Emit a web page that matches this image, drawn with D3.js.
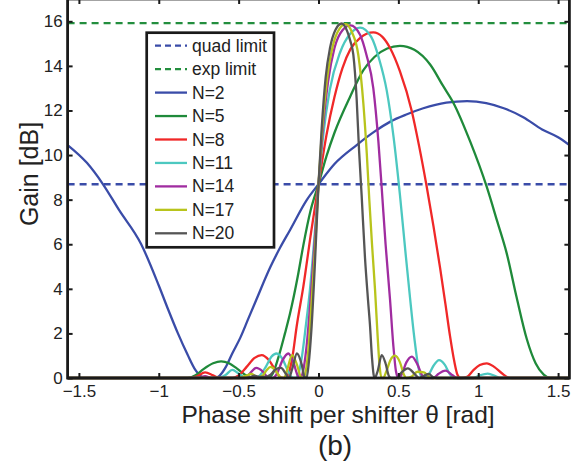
<!DOCTYPE html>
<html><head><meta charset="utf-8">
<script src="https://cdn.jsdelivr.net/npm/d3@7"></script>
<style>
html,body{margin:0;padding:0;background:#fff;}
svg{display:block;}
text{font-family:"Liberation Sans",Arial,Helvetica,sans-serif;fill:#222;}
</style></head>
<body>
<svg id="chart" width="587" height="469"></svg>
<script>
// ---- data ----
const xTicks = [-1.5, -1, -0.5, 0, 0.5, 1, 1.5];
const yTicks = [0, 2, 4, 6, 8, 10, 12, 14, 16];
const quadLimit = 8.69;
const expLimit = 15.92;
const legendLabels = ["quad limit", "exp limit", "N=2", "N=5", "N=8", "N=11", "N=14", "N=17", "N=20"];

const n2 = [[-1.5708,10.45],[-1.45,9.65],[-1.35,8.7],[-1.25,7.55],[-1.11,6.0],[-1.0,4.15],[-0.94,3.05],[-0.88,2.0],[-0.82,1.05],[-0.77,0.35],[-0.73,0.05],[-0.70,0],[-0.65,0],[-0.62,0.1],[-0.58,0.5],[-0.54,1.1],[-0.49,1.8],[-0.44,2.65],[-0.39,3.5],[-0.3,5.0],[-0.24,5.85],[-0.178,6.64],[-0.074,7.98],[0,8.69],[0.1,9.6],[0.239,10.45],[0.35,11.05],[0.45,11.5],[0.55,11.82],[0.656,12.1],[0.8,12.35],[0.93,12.42],[1.05,12.33],[1.16,12.1],[1.282,11.7],[1.4,11.15],[1.5,10.8],[1.5708,10.45]];
const n5 = [[-1.5708,0],[-0.82,0],[-0.77,0.12],[-0.72,0.4],[-0.66,0.66],[-0.61,0.75],[-0.56,0.66],[-0.51,0.42],[-0.46,0.15],[-0.42,0.02],[-0.38,0],[-0.32,0],[-0.29,0.15],[-0.25,0.95],[-0.21,2.0],[-0.178,2.9],[-0.13,4.55],[-0.095,5.95],[-0.05,7.5],[0,8.69],[0.05,9.95],[0.1,11.0],[0.2,12.65],[0.28,13.8],[0.35,14.4],[0.43,14.78],[0.51,14.9],[0.6,14.72],[0.7,14.05],[0.78,13.1],[0.844,12.35],[0.95,10.6],[1.053,8.58],[1.12,7.0],[1.178,5.6],[1.241,3.6],[1.304,1.75],[1.36,0.65],[1.41,0.15],[1.45,0],[1.5708,0]];
const n8 = [[-1.5708,0],[-0.80,0],[-0.76,0.08],[-0.71,0.25],[-0.66,0.12],[-0.62,0],[-0.54,0],[-0.50,0.12],[-0.45,0.5],[-0.40,0.9],[-0.356,1.03],[-0.31,0.8],[-0.27,0.35],[-0.235,0.02],[-0.21,0],[-0.185,0.25],[-0.16,1.1],[-0.137,2.3],[-0.095,4.1],[-0.045,6.6],[0,8.69],[0.05,10.9],[0.1,12.6],[0.15,13.9],[0.2,14.75],[0.26,15.25],[0.343,15.5],[0.4,15.3],[0.448,14.8],[0.51,13.75],[0.583,12.0],[0.63,10.4],[0.677,8.6],[0.72,6.8],[0.761,4.95],[0.795,3.3],[0.823,1.9],[0.85,0.75],[0.87,0.15],[0.89,0],[0.93,0.05],[0.97,0.35],[1.01,0.58],[1.053,0.66],[1.1,0.5],[1.15,0.2],[1.19,0.02],[1.21,0],[1.5708,0]];
const n11 = [[-1.5708,0],[-0.62,0],[-0.58,0.15],[-0.54,0.36],[-0.50,0.2],[-0.46,0.02],[-0.40,0],[-0.37,0.1],[-0.33,0.5],[-0.295,0.95],[-0.262,1.1],[-0.225,0.85],[-0.19,0.3],[-0.165,0.02],[-0.145,0],[-0.125,0.2],[-0.105,0.9],[-0.08,2.3],[-0.053,4.0],[-0.025,6.35],[0,8.69],[0.03,10.9],[0.07,12.9],[0.135,14.6],[0.2,15.45],[0.26,15.72],[0.33,15.3],[0.38,14.3],[0.427,12.9],[0.47,10.8],[0.51,8.2],[0.545,5.6],[0.573,3.6],[0.6,1.8],[0.625,0.5],[0.645,0.05],[0.665,0],[0.69,0.15],[0.72,0.55],[0.755,0.8],[0.79,0.6],[0.82,0.2],[0.845,0],[0.97,0],[1.01,0.12],[1.06,0.2],[1.11,0.08],[1.14,0],[1.5708,0]];
const n14 = [[-1.5708,0],[-0.75,0],[-0.71,0.08],[-0.67,0],[-0.46,0],[-0.43,0.2],[-0.39,0.45],[-0.35,0.3],[-0.315,0.02],[-0.29,0],[-0.26,0.2],[-0.225,0.8],[-0.189,1.1],[-0.155,0.65],[-0.13,0.1],[-0.115,0],[-0.1,0.2],[-0.075,1.4],[-0.05,3.5],[-0.025,6.0],[0,8.69],[0.025,11.0],[0.06,13.3],[0.1,14.8],[0.15,15.6],[0.2,15.82],[0.26,15.4],[0.3,14.5],[0.343,13.0],[0.375,10.6],[0.396,8.5],[0.42,6.0],[0.448,3.5],[0.468,1.5],[0.485,0.3],[0.50,0],[0.52,0.15],[0.55,0.7],[0.585,0.96],[0.62,0.6],[0.65,0.1],[0.67,0],[0.72,0],[0.75,0.18],[0.795,0.33],[0.84,0.12],[0.87,0],[1.5708,0]];
const n17 = [[-1.5708,0],[-0.50,0],[-0.46,0.08],[-0.42,0.18],[-0.38,0.03],[-0.35,0.1],[-0.325,0.35],[-0.30,0.5],[-0.27,0.35],[-0.235,0.02],[-0.215,0],[-0.195,0.4],[-0.165,1.03],[-0.135,0.6],[-0.11,0.05],[-0.095,0],[-0.08,0.3],[-0.063,1.3],[-0.045,3.2],[-0.02,6.0],[0,8.69],[0.02,10.9],[0.05,13.2],[0.09,14.9],[0.13,15.65],[0.17,15.87],[0.21,15.5],[0.249,14.5],[0.281,12.3],[0.302,10.1],[0.318,8.0],[0.335,6.0],[0.354,3.95],[0.37,1.9],[0.383,0.5],[0.395,0.02],[0.405,0],[0.425,0.3],[0.45,0.8],[0.479,1.0],[0.51,0.7],[0.535,0.15],[0.55,0],[0.58,0.05],[0.62,0.28],[0.66,0.25],[0.695,0.03],[0.71,0],[1.5708,0]];
const n20 = [[-1.5708,0],[-0.44,0],[-0.40,0.1],[-0.37,0.05],[-0.335,0.05],[-0.30,0.15],[-0.265,0.4],[-0.235,0.45],[-0.205,0.2],[-0.185,0],[-0.165,0.4],[-0.135,1.1],[-0.105,0.6],[-0.088,0.05],[-0.075,0],[-0.062,0.6],[-0.045,2.1],[-0.022,5.2],[0,8.69],[0.02,11.2],[0.045,13.5],[0.072,14.8],[0.105,15.6],[0.145,15.9],[0.18,15.55],[0.2,15.1],[0.218,14.5],[0.239,12.5],[0.254,10.2],[0.27,8.2],[0.291,5.4],[0.31,3.5],[0.322,2.4],[0.335,0.9],[0.345,0.15],[0.352,0],[0.37,0.3],[0.396,1.03],[0.42,0.65],[0.44,0.1],[0.455,0],[0.49,0],[0.52,0.25],[0.56,0.43],[0.60,0.2],[0.63,0],[0.66,0.1],[0.69,0.18],[0.72,0.03],[0.74,0],[1.5708,0]];

const seriesData = [n2, n5, n8, n11, n14, n17, n20];
const seriesColors = ["#3a4ca8", "#1f8a3a", "#f02828", "#4cc8c0", "#a02ca0", "#b8c41c", "#555555"];
const quadColor = "#3a4ca8";
const expColor = "#238e3e";

// ---- layout ----
const svg = d3.select("#chart");
const plotL = 67.6, plotR = 569.4, plotT = -1, plotB = 378;
const x = d3.scaleLinear().domain([-Math.PI/2, Math.PI/2]).range([plotL, plotR]);
const y = d3.scaleLinear().domain([0, 17]).range([plotB, plotT]);

// limit lines
const limitLine = (v, c) => svg.append("line")
  .attr("x1", plotL).attr("x2", plotR).attr("y1", y(v)).attr("y2", y(v))
  .attr("stroke", c).attr("stroke-width", 2.3).attr("stroke-dasharray", "7,5");
limitLine(quadLimit, quadColor);
limitLine(expLimit, expColor);

// curves
const line = d3.line().x(d => x(d[0])).y(d => y(d[1])).curve(d3.curveMonotoneX);
seriesData.forEach((s, i) => {
  svg.append("path").datum(s).attr("d", line)
    .attr("fill", "none").attr("stroke", seriesColors[i])
    .attr("stroke-width", 2.3).attr("stroke-linejoin", "round");
});

// frame
svg.append("rect").attr("x", plotL).attr("y", plotT).attr("width", plotR-plotL).attr("height", plotB-plotT)
  .attr("fill", "none").attr("stroke", "#1a1a1a").attr("stroke-width", 2.8);

// axes
const fmt = d => (d < 0 ? "\u2212" : "") + Math.abs(d);
const gx = svg.append("g").attr("transform", `translate(0,${plotB})`)
  .call(d3.axisBottom(x).tickValues(xTicks).tickSize(-5).tickPadding(7).tickFormat(fmt));
const gxt = svg.append("g").attr("transform", `translate(0,${plotT})`)
  .call(d3.axisTop(x).tickValues(xTicks).tickSize(-5).tickFormat(""));
const gy = svg.append("g").attr("transform", `translate(${plotL},0)`)
  .call(d3.axisLeft(y).tickValues(yTicks).tickSize(-5).tickPadding(5).tickFormat(d => d));
const gyr = svg.append("g").attr("transform", `translate(${plotR},0)`)
  .call(d3.axisRight(y).tickValues(yTicks).tickSize(-5).tickFormat(""));
[gx, gxt, gy, gyr].forEach(g => {
  g.select(".domain").remove();
  g.selectAll(".tick line").attr("stroke", "#1a1a1a").attr("stroke-width", 2);
  g.selectAll(".tick text").attr("font-size", 17).attr("fill", "#222")
    .attr("font-family", "Liberation Sans, Arial, sans-serif");
});

// axis titles
svg.append("text").attr("x", 338).attr("y", 423).attr("text-anchor", "middle")
  .attr("font-size", 24.5).text("Phase shift per shifter \u03B8 [rad]");
svg.append("text").attr("transform", "translate(38,174) rotate(-90)").attr("text-anchor", "middle")
  .attr("font-size", 25).text("Gain [dB]");
svg.append("text").attr("x", 335).attr("y", 455).attr("text-anchor", "middle")
  .attr("font-size", 28).text("(b)");

// legend
const lg = svg.append("g");
lg.append("rect").attr("x", 146.7).attr("y", 32.7).attr("width", 127.3).attr("height", 214.6)
  .attr("fill", "#fff").attr("stroke", "#1a1a1a").attr("stroke-width", 2.7);
const legendColors = [quadColor, expColor].concat(seriesColors);
legendLabels.forEach((lab, i) => {
  const ry = 45.7 + i * 23.45;
  lg.append("line").attr("x1", 155).attr("x2", 187).attr("y1", ry).attr("y2", ry)
    .attr("stroke", legendColors[i]).attr("stroke-width", 2.3)
    .attr("stroke-dasharray", i < 2 ? "6,4" : null);
  lg.append("text").attr("x", 192).attr("y", ry + 6).attr("font-size", 17.5).text(lab);
});
</script>
</body></html>
